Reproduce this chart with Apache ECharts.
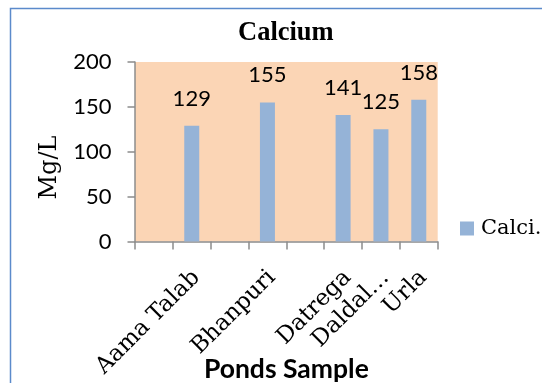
<!DOCTYPE html>
<html><head><meta charset="utf-8">
<script src="https://cdn.jsdelivr.net/npm/echarts@6/dist/echarts.min.js"></script>
<style>html,body{margin:0;padding:0;background:#fff}#c{width:542px;height:383px}</style>
</head><body><div id="c"></div>
<script>
const categories = ['', 'Aama Talab', '', 'Bhanpuri', '', 'Datrega', 'Daldal…', 'Urla'];
const calcium = [null, 129, null, 155, null, 141, 125, 158];
const yTicks = [0, 50, 100, 150, 200];
const seriesName = 'Calci.';
const yTitle = 'Mg/L';
const xTitle = 'Ponds Sample';

const chart = echarts.init(document.getElementById('c'), null, {renderer: 'canvas'});
const serif = '"DejaVu Serif", "Liberation Serif", serif';
const sans = 'Lato, "Open Sans", sans-serif';
chart.setOption({
  backgroundColor: '#ffffff',
  animation: false,
  graphic: [{
    type: 'rect', shape: {x: 10.5, y: 8.5, width: 620, height: 420},
    style: {fill: 'none', stroke: '#5B8ACB', lineWidth: 1.5}, z: 100
  }, {
    type: 'text', x: 50, y: 167.5, rotation: Math.PI / 2,
    style: {text: yTitle, font: '24px ' + serif, fill: '#000', align: 'center', verticalAlign: 'middle'}
  }],
  title: {
    text: 'Calcium', left: 233, top: 15,
    textStyle: {fontFamily: '"Liberation Serif", serif', fontWeight: 'bold', fontSize: 26.5, color: '#000'}
  },
  legend: {
    left: 460, top: 218, padding: 0, itemWidth: 14, itemHeight: 14, itemGap: 5,
    icon: 'rect',
    textStyle: {fontFamily: serif, fontSize: 21, color: '#000', padding: [0, 0, 0, 2]},
    data: [seriesName]
  },
  grid: {
    left: 135, right: 104.3, top: 62, bottom: 141.5,
    outerBoundsMode: 'none', containLabel: false,
    show: true, backgroundColor: '#FBD5B5', borderWidth: 0
  },
  xAxis: {
    type: 'category', data: categories,
    name: xTitle, nameLocation: 'middle', nameGap: 114, nameMoveOverlap: false,
    nameTextStyle: {fontFamily: sans, fontWeight: 'bold', fontSize: 26.5, color: '#000'},
    axisLine: {lineStyle: {color: '#8C8C8C', width: 1.5}},
    axisTick: {show: true, length: 8, lineStyle: {color: '#8C8C8C', width: 1.5}},
    axisLabel: {interval: 0, rotate: 45, margin: 21, verticalAlign: 'top', padding: [0, 5, 0, 0],
      fontFamily: serif, fontSize: 23, color: '#000'},
    splitLine: {show: false}
  },
  yAxis: {
    type: 'value', min: yTicks[0], max: yTicks[yTicks.length - 1], interval: 50,
    axisLine: {show: true, lineStyle: {color: '#8C8C8C', width: 1.5}},
    axisTick: {show: true, length: 7.5, lineStyle: {color: '#8C8C8C', width: 1.5}},
    axisLabel: {margin: 23.5, fontFamily: sans, fontSize: 22, color: '#000'},
    splitLine: {show: false}
  },
  series: [{
    name: seriesName, type: 'bar', data: calcium, barWidth: 15,
    itemStyle: {color: '#95B3D7'},
    label: {show: true, position: 'top', distance: 16, fontFamily: sans, fontSize: 22, color: '#000'}
  }]
});
</script></body></html>
